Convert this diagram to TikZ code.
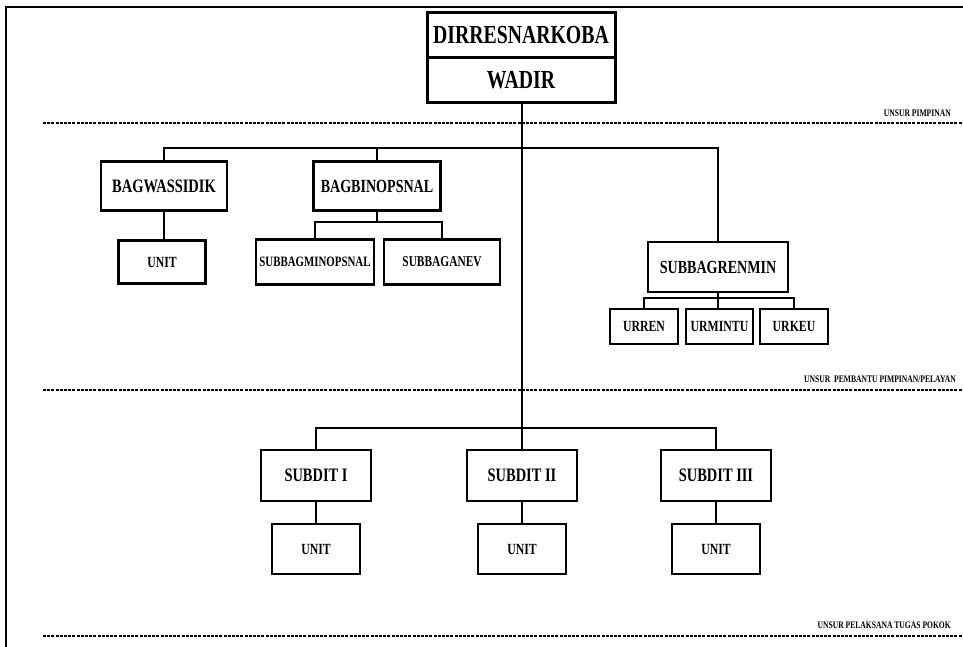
\documentclass[tikz,border=0pt]{standalone}
\usepackage{fontspec}
\setmainfont{Liberation Serif}[FakeStretch=0.76]
\begin{document}
\begin{tikzpicture}[x=1pt,y=-1pt,
  box/.style={draw, line width=2.6pt, inner sep=0pt, align=center},
  conn/.style={line width=2.6pt},
  sep/.style={line width=1.5pt, dash pattern=on 3pt off 1.2pt},
  lbl/.style={anchor=south east, inner sep=0pt, font=\fontsize{10}{11}\selectfont\bfseries}]
\useasboundingbox (0,0) rectangle (963,647);
% frame
\draw[line width=1.5pt] (963,7) -- (6,7) -- (6,647);
% top
\node[box, line width=3pt, minimum width=188pt, minimum height=45pt, font=\fontsize{26}{28}\selectfont\bfseries] (dir) at (521,35.5) {DIRRESNARKOBA};
\node[box, line width=3pt, minimum width=188pt, minimum height=45pt, font=\fontsize{26}{28}\selectfont\bfseries] (wadir) at (521,80.5) {WADIR};
% level 2
\node[box, minimum width=126pt, minimum height=49pt, font=\fontsize{19}{21}\selectfont\bfseries] (bagwas) at (164,186) {BAGWASSIDIK};
\node[box, minimum width=87pt, minimum height=43pt, font=\fontsize{15.5}{17}\selectfont\bfseries] (unita) at (162,262) {UNIT};
\node[box, minimum width=127pt, minimum height=49pt, font=\fontsize{18.5}{20}\selectfont\bfseries] (bagbin) at (377,186) {BAGBINOPSNAL};
\node[box, minimum width=118pt, minimum height=45pt, font=\fontsize{14.3}{16}\selectfont\bfseries] (smin) at (315,262) {SUBBAGMINOPSNAL};
\node[box, minimum width=116pt, minimum height=45pt, font=\fontsize{15}{17}\selectfont\bfseries] (sanev) at (442,262) {SUBBAGANEV};
\node[box, minimum width=140pt, minimum height=50pt, font=\fontsize{18.5}{20}\selectfont\bfseries] (sren) at (718,267) {SUBBAGRENMIN};
\node[box, minimum width=68pt, minimum height=35pt, font=\fontsize{15.5}{17}\selectfont\bfseries] (urren) at (644,326.5) {URREN};
\node[box, minimum width=67pt, minimum height=35pt, font=\fontsize{15.5}{17}\selectfont\bfseries] (urmin) at (719.5,326.5) {URMINTU};
\node[box, minimum width=68pt, minimum height=35pt, font=\fontsize{15.5}{17}\selectfont\bfseries] (urkeu) at (794,326.5) {URKEU};
% subdit
\node[box, minimum width=110pt, minimum height=51pt, font=\fontsize{19}{21}\selectfont\bfseries] (sd1) at (316,475.5) {SUBDIT I};
\node[box, minimum width=110pt, minimum height=51pt, font=\fontsize{19}{21}\selectfont\bfseries] (sd2) at (522,475.5) {SUBDIT II};
\node[box, minimum width=110pt, minimum height=51pt, font=\fontsize{19}{21}\selectfont\bfseries] (sd3) at (716,475.5) {SUBDIT III};
\node[box, minimum width=88pt, minimum height=50pt, font=\fontsize{15.5}{17}\selectfont\bfseries] (u1) at (316,549) {UNIT};
\node[box, minimum width=88pt, minimum height=50pt, font=\fontsize{15.5}{17}\selectfont\bfseries] (u2) at (522,549) {UNIT};
\node[box, minimum width=88pt, minimum height=50pt, font=\fontsize{15.5}{17}\selectfont\bfseries] (u3) at (716,549) {UNIT};
% junctions
\coordinate (jtop) at (522,148);
\coordinate (jbin) at (377,222);
\coordinate (jren) at (718,298);
\coordinate (jsd) at (522,428);
% connectors
\draw[conn] (wadir.south -| jsd) -- (jsd);
\draw[conn] (bagwas.north) |- (jtop) -| (sren.north);
\draw[conn] (bagbin.north) -- (bagbin.north |- jtop);
\draw[conn] (bagwas.south) -- (bagwas.south |- unita.north);
\draw[conn] (bagbin.south) -- (jbin);
\draw[conn] (smin.north) |- (jbin) -| (sanev.north);
\draw[conn] (sren.south) -- (jren);
\draw[conn] (urren.north) |- (jren) -| (urkeu.north);
\draw[conn] (jren) -- (jren |- urmin.north);
\draw[conn] (sd1.north) |- (jsd) -| (sd3.north);
\draw[conn] (jsd) -- (sd2.north);
\draw[conn] (sd1) -- (u1);
\draw[conn] (sd2) -- (u2);
\draw[conn] (sd3) -- (u3);
% separators
\coordinate (s1a) at (43,123); \coordinate (s1b) at (963,123);
\coordinate (s2a) at (43,390); \coordinate (s2b) at (963,390);
\coordinate (s3a) at (43,636); \coordinate (s3b) at (963,636);
\draw[sep] (s1a) -- (s1b);
\draw[sep] (s2a) -- (s2b);
\draw[sep] (s3a) -- (s3b);
\node[lbl] (l1) at (951,117) {UNSUR PIMPINAN};
\node[lbl] (l2) at (956,383) {UNSUR\ \ PEMBANTU PIMPINAN/PELAYAN};
\node[lbl] (l3) at (951,629) {UNSUR PELAKSANA TUGAS POKOK};
\end{tikzpicture}
\end{document}
